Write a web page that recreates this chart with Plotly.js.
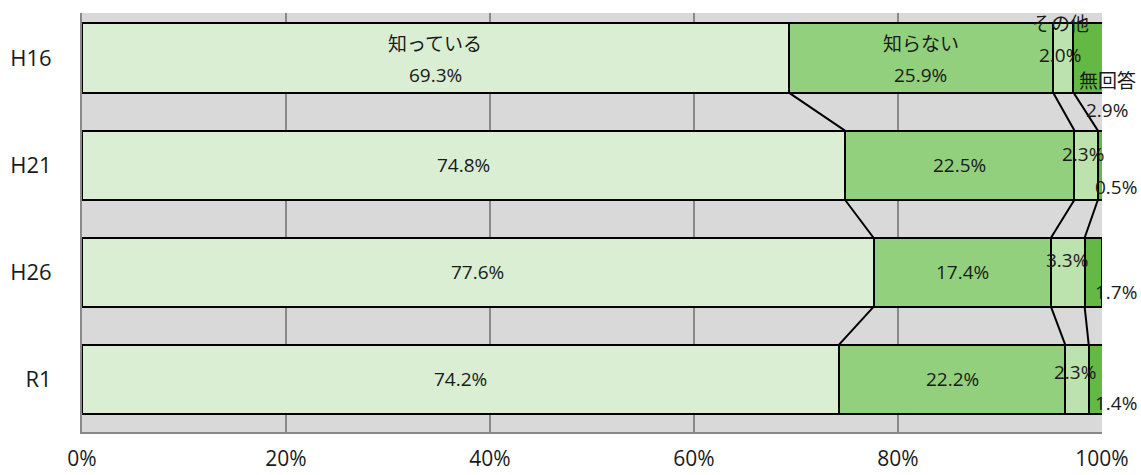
<!DOCTYPE html>
<html><head><meta charset="utf-8">
<script src="https://cdn.plot.ly/plotly-3.0.1.min.js"></script>
<style>html,body{margin:0;padding:0;background:#fff}#chart{width:1141px;height:475px}</style>
</head><body><div id="chart"></div>
<script>
const categories = ['H16','H21','H26','R1'];
const seriesNames = ['知っている','知らない','その他','無回答'];
const knows   = [69.3, 74.8, 77.6, 74.2];
const unknown = [25.9, 22.5, 17.4, 22.2];
const other   = [2.0, 2.3, 3.3, 2.3];
const noAns   = [2.9, 0.5, 1.7, 1.4];
const xTicks = [0,20,40,60,80,100];
const xTickText = ['0%','20%','40%','60%','80%','100%'];

const colors = ['#d9eed3','#93d07d','#bce3ad','#64b944'];
const series = [knows, unknown, other, noAns];
const yIdx = categories.map((c,i)=>i);
const W = 0.645;
const FONT = '"Open Sans", "Noto Sans CJK JP", sans-serif';

const traces = series.map((vals,k)=>({
  type:'bar', orientation:'h', name:seriesNames[k],
  x: vals, y: yIdx, width: W,
  marker:{color:colors[k], line:{color:'#000', width:2}},
  hoverinfo:'skip'
}));

// cumulative sums
const cum = categories.map((c,i)=>{let s=0; return series.map(v=>{s+=v[i]; return s;});});
// series (connector) lines
const lx=[], ly=[];
for(let k=0;k<3;k++){
  for(let i=0;i<categories.length-1;i++){
    lx.push(cum[i][k], cum[i+1][k], null);
    ly.push(i+W/2, i+1-W/2, null);
  }
}
traces.push({type:'scatter', mode:'lines', x:lx, y:ly, line:{color:'#000', width:2}, hoverinfo:'skip', showlegend:false, cliponaxis:false});

// label pixel offsets [xshift, yshift] for その他 and 無回答 value labels per row
const otherShift = [[-3,3.5],[-3,11],[-1,12.5],[-2,7.5]];
const noAnsShift = [[19,-52],[15.5,-21.5],[23,-19.5],[20,-23.5]];

const ann = [];
const fmt = v=>v.toFixed(1)+'%';
const txt = (x,y,t,xs,ys)=>ann.push({x:x,y:y,xref:'x',yref:'y',text:t,showarrow:false,xshift:xs||0,yshift:ys||0,font:{size:19,color:'#1a1a1a',family:FONT}});
categories.forEach((c,i)=>{
  const starts=[0,cum[i][0],cum[i][1],cum[i][2]];
  const mids = series.map((v,k)=>starts[k]+v[i]/2);
  if(i===0){
    txt(mids[0], i, seriesNames[0], 0, 14);
    txt(mids[0], i, fmt(knows[i]), 0, -16.5);
    txt(mids[1], i, seriesNames[1], 0, 14);
    txt(mids[1], i, fmt(unknown[i]), 0, -16.5);
    txt(mids[2], i, seriesNames[2], -3, 34);
    txt(mids[3], i, seriesNames[3], 19, -23);
  } else {
    txt(mids[0], i, fmt(knows[i]), 0, 0);
    txt(mids[1], i, fmt(unknown[i]), 0, 0);
  }
  txt(mids[2], i, fmt(other[i]), otherShift[i][0], otherShift[i][1]);
  txt(mids[3], i, fmt(noAns[i]), noAnsShift[i][0], noAnsShift[i][1]);
});

const layout = {
  width:1141, height:475,
  margin:{l:82, r:39, t:13, b:43},
  paper_bgcolor:'#fff', plot_bgcolor:'#d9d9d9',
  barmode:'stack', showlegend:false,
  font:{family:FONT, color:'#1a1a1a'},
  xaxis:{range:[0,100], tickvals:xTicks, ticktext:xTickText, showgrid:true, gridcolor:'#898989', gridwidth:2,
         showline:true, linecolor:'#898989', linewidth:2, zeroline:false, ticks:'', ticklen:0, ticklabelstandoff:7,
         tickfont:{size:21, family:FONT, color:'#1a1a1a'}, fixedrange:true},
  yaxis:{range:[3.49,-0.42], tickvals:yIdx, ticktext:categories, showgrid:false, zeroline:false,
         showline:true, linecolor:'#898989', linewidth:2, ticks:'', ticklabelstandoff:24,
         tickfont:{size:22, family:FONT, color:'#1a1a1a'}},
  annotations: ann
};
Plotly.newPlot('chart', traces, layout, {staticPlot:true});
</script></body></html>
